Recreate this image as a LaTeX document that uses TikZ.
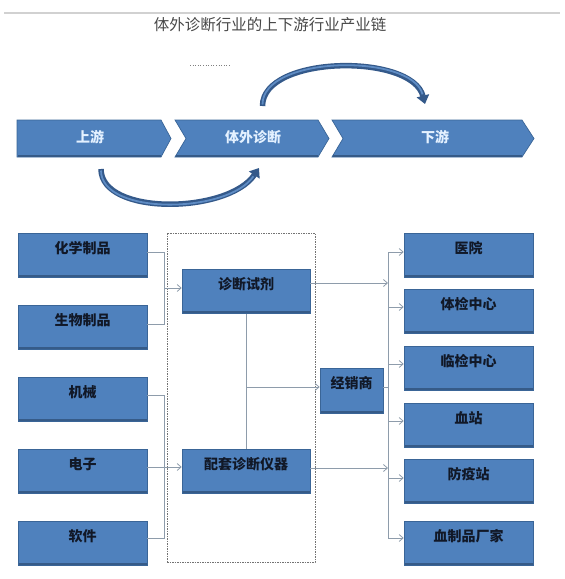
\documentclass[tikz,border=0pt]{standalone}
\usepackage{fontspec}
\setmainfont{Noto Sans CJK SC}
\usetikzlibrary{arrows.meta}
\definecolor{boxblue}{HTML}{4F81BD}
\definecolor{boxedge}{HTML}{3A6597}
\definecolor{boxdark}{HTML}{365B88}
\definecolor{linegray}{HTML}{8E9CAB}
\definecolor{arrowdark}{HTML}{34598A}
\definecolor{arrowlight}{HTML}{5F8CC4}
\definecolor{chevtext}{HTML}{E4F1FF}
\definecolor{boxtext}{HTML}{111827}
\tikzset{
  box/.style={draw=boxedge, line width=0.6pt, fill=boxblue, inner sep=0pt,
    minimum width=129pt, minimum height=44pt, text height=20.3pt, text depth=23.7pt,
    font=\bfseries\fontsize{14pt}{14pt}\selectfont, text=boxtext,
    path picture={\fill[boxdark] ([yshift=2.5pt]path picture bounding box.south west) rectangle (path picture bounding box.south east);}},
  chev/.style={fill=boxblue, draw=boxedge, line width=0.7pt},
  chevlabel/.style={font=\bfseries\fontsize{14pt}{14pt}\selectfont, text=chevtext, inner sep=0pt},
  conn/.style={draw=linegray, line width=0.8pt},
  arr/.style={conn, -{Straight Barb[length=4pt,width=7pt]}},
  bigarrow/.style={line width=5.5pt, arrowdark, -{Triangle[length=8.5pt,width=12.5pt]}},
  biglight/.style={line width=1.8pt, arrowlight, shorten >=10pt, shorten <=1.5pt}
}
\begin{document}
\begin{tikzpicture}[x=1pt,y=-1pt]
\useasboundingbox (0,0) rectangle (565,579);
% top rule and title
\draw[black!18, line width=1.2pt] (4,13) -- (560,13);
\node[font=\fontsize{15.5pt}{15.5pt}\selectfont, text=black!72, inner sep=0pt] (title) at (270,25) {体外诊断行业的上下游行业产业链};
\draw[black!50, dotted, line width=0.6pt] (190,65) -- (231,65);
% chevrons
\path[chev] (17,120) -- (161,120) -- (171,138.5) -- (161,157) -- (17,157) -- cycle;
\path[chev] (175,120) -- (318,120) -- (329,138.5) -- (318,157) -- (175,157) -- (186,138.5) -- cycle;
\path[chev] (332,120) -- (522,120) -- (534,138.5) -- (522,157) -- (332,157) -- (343,138.5) -- cycle;
\draw[boxdark, line width=1.6pt] (17.5,156) -- (161,156);
\draw[boxdark, line width=1.6pt] (176,156) -- (318,156);
\draw[boxdark, line width=1.6pt] (333,156) -- (522,156);
\node[chevlabel] (up) at (90,137) {上游};
\node[chevlabel] (ivd) at (253,137) {体外诊断};
\node[chevlabel] (down) at (435,137) {下游};
% curved arrows
\draw[bigarrow] (262.5,106) .. controls (262.5,55) and (412,53) .. (425,104);
\draw[biglight] (262.5,106) .. controls (262.5,55) and (412,53) .. (425,104);
\draw[bigarrow] (101,169) .. controls (101,216) and (228,214) .. (259,168);
\draw[biglight] (101,169) .. controls (101,216) and (228,214) .. (259,168);
% dashed group
\node[draw=black!55, dash pattern=on 1.5pt off 1pt, line width=0.8pt, minimum width=148pt, minimum height=329pt, inner sep=0pt] (grp) at (241,397.5) {};
% left boxes
\node[box] (chem) at (82.5,255) {化学制品};
\node[box] (bio) at (82.5,327) {生物制品};
\node[box] (mech) at (82.5,399) {机械};
\node[box] (elec) at (82.5,471) {电子};
\node[box] (soft) at (82.5,543) {软件};
% middle
\node[box, minimum width=128pt] (reagent) at (246,291.5) {诊断试剂};
\node[box, minimum width=128pt] (instr) at (246,471) {配套诊断仪器};
\node[box, minimum width=63pt, minimum height=45pt, text depth=24.7pt] (dealer) at (351.5,390.5) {经销商};
% right
\node[box] (hosp) at (468.5,255) {医院};
\node[box] (check) at (468.5,311) {体检中心};
\node[box] (clin) at (468.5,368) {临检中心};
\node[box] (blood) at (468.5,425) {血站};
\node[box] (epi) at (468.5,481.5) {防疫站};
\node[box] (plasma) at (468.5,543) {血制品厂家};
% connectors left
\coordinate (busA) at (164,288);
\coordinate (busB) at (164,467);
\draw[conn] ([yshift=3pt]chem.east) -| (busA);
\draw[conn] ([yshift=3pt]bio.east) -| (busA);
\draw[arr] (busA) -- (busA -| reagent.west);
\draw[conn] ([yshift=4pt]mech.east) -| (busB);
\draw[conn] ([yshift=5pt]soft.east) -| (busB);
\draw[arr] ([yshift=4pt]elec.east) -- ([yshift=4pt]instr.west);
% middle connectors
\coordinate (midJ) at (246,387);
\draw[conn] (reagent.south) -- (instr.north);
\draw[arr] (midJ) -- (midJ -| dealer.west);
% right bus
\coordinate (busTop) at (388,252);
\coordinate (busBot) at (388,538);
\draw[conn] (busTop) -- (busBot);
\draw[arr] ([yshift=8.5pt]reagent.east) -- ([yshift=8.5pt]reagent.east -| busTop);
\draw[arr] ([yshift=3pt]instr.east) -- ([yshift=3pt]instr.east -| busTop);
\draw[conn] ([yshift=3.5pt]dealer.east) -- ([yshift=3.5pt]dealer.east -| busTop);
\draw[arr] ([yshift=3pt]hosp.west -| busTop) -- ([yshift=3pt]hosp.west);
\draw[arr] ([yshift=4pt]check.west -| busTop) -- ([yshift=4pt]check.west);
\draw[arr] ([yshift=4pt]clin.west -| busTop) -- ([yshift=4pt]clin.west);
\draw[arr] ([yshift=4pt]blood.west -| busTop) -- ([yshift=4pt]blood.west);
\draw[arr] ([yshift=3.5pt]epi.west -| busTop) -- ([yshift=3.5pt]epi.west);
\draw[arr] ([yshift=5pt]plasma.west -| busTop) -- ([yshift=5pt]plasma.west);
\end{tikzpicture}
\end{document}
